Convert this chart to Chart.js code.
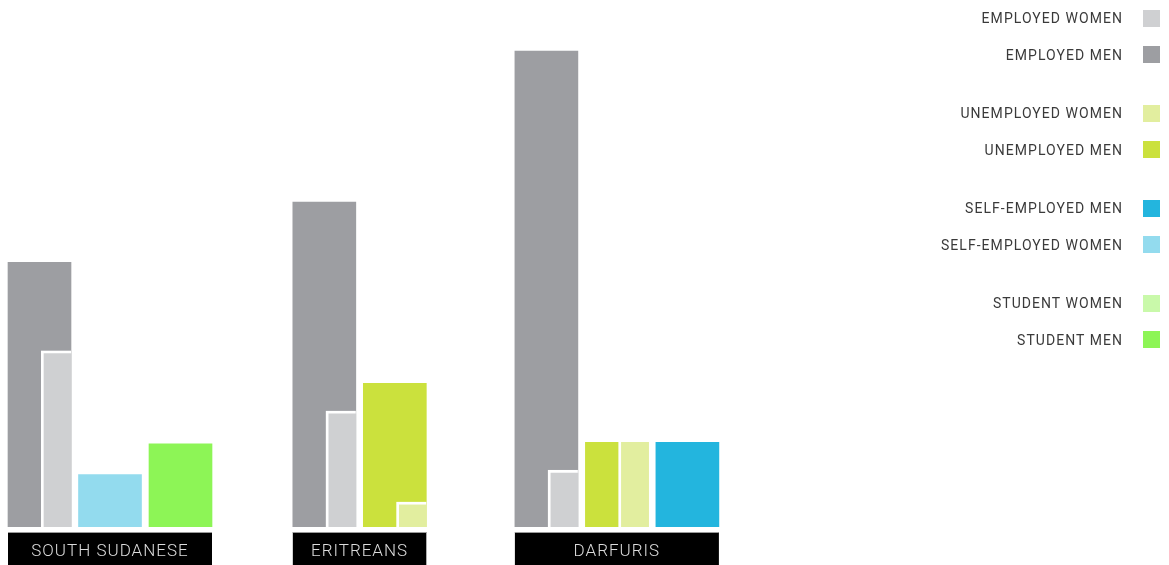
<!DOCTYPE html>
<html>
<head>
<meta charset="utf-8">
<script src="https://cdn.jsdelivr.net/npm/chart.js@4.4.0/dist/chart.umd.min.js"></script>
<style>
  html, body { margin: 0; padding: 0; background: #fff; }
  #wrap { position: relative; width: 1169px; height: 565px; overflow: hidden; }
  #legend {
    position: absolute; top: 0; right: 9px;
    font-family: Roboto, sans-serif; font-size: 14px; letter-spacing: 1.05px; color: #3a3a3a;
  }
  .row { display: flex; align-items: center; justify-content: flex-end; height: 36.5px; }
  .row .box { width: 17px; height: 17px; margin-left: 20px; }
  .gap { height: 22px; }
</style>
</head>
<body>
<div id="wrap">
  <canvas id="chart" width="1169" height="565"></canvas>
  <div id="legend"></div>
</div>
<script>
const countries = ['SOUTH SUDANESE', 'ERITREANS', 'DARFURIS'];
const statuses = ['EMPLOYED', 'UNEMPLOYED', 'SELF-EMPLOYED', 'STUDENT'];

// values per country, same order as countries
const employedWomen = [6.19, 4.04, 1.93];
const employedMen = [9.45, 11.6, 17.0];
const unemployedWomen = [0, 0.79, 3.02];
const unemployedMen = [0, 5.13, 3.02];
const selfEmployedMen = [0, 0, 3.02];
const selfEmployedWomen = [1.87, 0, 0];
const studentWomen = [0, 0, 0];
const studentMen = [2.97, 0, 0];

// legend order
const series = [
  { label: 'EMPLOYED WOMEN', status: 0, women: true, values: employedWomen },
  { label: 'EMPLOYED MEN', status: 0, women: false, values: employedMen },
  { label: 'UNEMPLOYED WOMEN', status: 1, women: true, values: unemployedWomen },
  { label: 'UNEMPLOYED MEN', status: 1, women: false, values: unemployedMen },
  { label: 'SELF-EMPLOYED MEN', status: 2, women: false, values: selfEmployedMen },
  { label: 'SELF-EMPLOYED WOMEN', status: 2, women: true, values: selfEmployedWomen },
  { label: 'STUDENT WOMEN', status: 3, women: true, values: studentWomen },
  { label: 'STUDENT MEN', status: 3, women: false, values: studentMen }
];

const colors = {
  'EMPLOYED WOMEN': '#cfd0d2',
  'EMPLOYED MEN': '#9d9ea2',
  'UNEMPLOYED WOMEN': '#e2ee9f',
  'UNEMPLOYED MEN': '#cbe13d',
  'SELF-EMPLOYED MEN': '#23b5de',
  'SELF-EMPLOYED WOMEN': '#93dbee',
  'STUDENT WOMEN': '#c9f9aa',
  'STUDENT MEN': '#8df556'
};

const PITCH = 70.5;            // px per slot
const FIRST_SLOT = 39.5;       // px, centre of the first slot
const GROUP_GAPS = [1.04, 1.15, 0]; // extra slots after each country
const MEN_BAR = 63;
const WOMEN_BAR = 27;
const HALO = 3;                // white edge round a narrow bar
const WOMEN_SHIFT = (MEN_BAR - WOMEN_BAR) / 2 / PITCH;

// one slot per status that has any value in a country
const slotX = {};
let pos = 0;
countries.forEach((c, ci) => {
  statuses.forEach((s, si) => {
    if (series.some(d => d.status === si && d.values[ci] > 0)) {
      slotX[ci + '-' + si] = pos;
      pos += 1;
    }
  });
  pos += GROUP_GAPS[ci];
});

const datasets = series.map(d => {
  const partner = series.find(o => o.status === d.status && o.women !== d.women);
  const narrow = d.women && d.values.some((v, ci) => v > 0 && partner.values[ci] > 0);

  return {
    label: d.label,
    narrow,
    data: d.values
      .map((v, ci) => v > 0 ? { x: slotX[ci + '-' + d.status] + (narrow ? WOMEN_SHIFT : 0), y: v } : null)
      .filter(Boolean),
    backgroundColor: colors[d.label],
    borderWidth: 0,
    barThickness: narrow ? WOMEN_BAR : MEN_BAR,
    grouped: false,
    order: d.women ? 1 : 2
  };
});

// white edge on the left and top of a bar that sits over a men bar
const halo = {
  id: 'halo',
  beforeDatasetDraw(chart, args) {
    if (!chart.data.datasets[args.index].narrow) return;
    const { ctx } = chart;
    ctx.save();
    ctx.fillStyle = '#fff';
    args.meta.data.forEach(bar => {
      const { x, y, base, width } = bar.getProps(['x', 'y', 'base', 'width'], true);
      ctx.fillRect(x - width / 2 - HALO, y - HALO, width + HALO, base - y + HALO);
    });
    ctx.restore();
  }
};

const groupLabels = {
  id: 'groupLabels',
  afterDatasetsDraw(chart) {
    const { ctx, scales: { x, y } } = chart;
    countries.forEach((name, ci) => {
      const xs = Object.keys(slotX).filter(k => k.startsWith(ci + '-')).map(k => slotX[k]);
      const left = x.getPixelForValue(Math.min(...xs)) - MEN_BAR / 2;
      const right = x.getPixelForValue(Math.max(...xs)) + MEN_BAR / 2;
      const top = Math.round(y.getPixelForValue(0)) + 5;

      ctx.save();
      ctx.fillStyle = '#000';
      ctx.fillRect(left, top, right - left, chart.height - top);
      ctx.fillStyle = '#9a9a9a';
      ctx.fillRect(left, top, right - left, 1);
      ctx.fillStyle = '#dcdcdc';
      ctx.font = '300 17px Roboto';
      ctx.letterSpacing = '1px';
      ctx.textAlign = 'center';
      ctx.textBaseline = 'middle';
      ctx.fillText(name, (left + right) / 2, top + 20);
      ctx.restore();
    });
  }
};

new Chart(document.getElementById('chart'), {
  type: 'bar',
  data: { datasets },
  options: {
    responsive: false,
    animation: false,
    layout: { padding: { top: 0, left: 0, right: 0, bottom: 38 } },
    plugins: { legend: { display: false }, tooltip: { enabled: false } },
    scales: {
      x: {
        type: 'linear',
        display: false,
        offset: false,
        min: -FIRST_SLOT / PITCH,
        max: (1169 - FIRST_SLOT) / PITCH
      },
      y: { display: false, min: 0, max: 527 / 28 }
    }
  },
  plugins: [halo, groupLabels]
});

// legend, grouped by status
const legend = document.getElementById('legend');
series.forEach((d, i) => {
  if (i > 0 && series[i - 1].status !== d.status) {
    legend.insertAdjacentHTML('beforeend', '<div class="gap"></div>');
  }
  legend.insertAdjacentHTML('beforeend',
    `<div class="row"><span>${d.label}</span><span class="box" style="background:${colors[d.label]}"></span></div>`);
});
</script>
</body>
</html>
